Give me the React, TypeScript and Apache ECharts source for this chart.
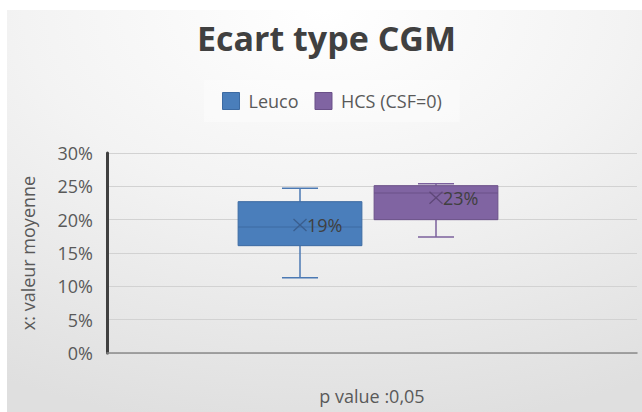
import React, { useEffect, useRef } from 'react';
import * as echarts from 'echarts';

const chartTitle = 'Ecart type CGM';
const seriesNames = ['Leuco', 'HCS (CSF=0)'];
// [min, Q1, median, Q3, max] in %
const leucoBox = [11.3, 16.1, 18.9, 22.7, 24.7];
const hcsBox = [17.4, 20.0, 24.0, 25.1, 25.4];
// means in %
const means = [19.2, 23.3];
const yMin = 0;
const yMax = 30;
const yStep = 5;
const yAxisTitle = 'x: valeur moyenne';
const xAxisTitle = 'p value :0,05';

const palette = [
  { fill: '#4a7ebb', border: '#3c6aa2', whisker: '#4b79b3', marker: '#3a5e8e' },
  { fill: '#8064a2', border: '#6a5088', whisker: '#7b609c', marker: '#5e4878' },
];

const FONT = '"Open Sans", "Noto Sans", sans-serif';

export default function App() {
  const ref = useRef<HTMLDivElement>(null);
  useEffect(() => {
    document.body.style.margin = '0';
    if (!ref.current) return;
    const chart = echarts.init(ref.current, undefined, { renderer: 'svg' });
    const boxes = [leucoBox, hcsBox];

    const renderItem = (params: any, api: any) => {
      const ci = api.value(0);
      const si = params.seriesIndex;
      const col = palette[si];
      const pMin = api.coord([ci, api.value(1)]);
      const pQ1 = api.coord([ci, api.value(2)]);
      const pMed = api.coord([ci, api.value(3)]);
      const pQ3 = api.coord([ci, api.value(4)]);
      const pMax = api.coord([ci, api.value(5)]);
      const pMean = api.coord([ci, api.value(6)]);
      const band = api.size([1, 0])[0];
      const bw = band * 0.91;
      const cw = band * 0.265;
      const cx = pMed[0];
      const mx = 6.5;
      const my = 6;
      return {
        type: 'group',
        children: [
          { type: 'line', shape: { x1: cx, y1: pMax[1], x2: cx, y2: pQ3[1] }, style: { stroke: col.whisker, lineWidth: 1.5 } },
          { type: 'line', shape: { x1: cx, y1: pQ1[1], x2: cx, y2: pMin[1] }, style: { stroke: col.whisker, lineWidth: 1.5 } },
          { type: 'line', shape: { x1: cx - cw / 2, y1: pMax[1], x2: cx + cw / 2, y2: pMax[1] }, style: { stroke: col.whisker, lineWidth: 1.5 } },
          { type: 'line', shape: { x1: cx - cw / 2, y1: pMin[1], x2: cx + cw / 2, y2: pMin[1] }, style: { stroke: col.whisker, lineWidth: 1.5 } },
          {
            type: 'rect',
            shape: { x: cx - bw / 2, y: pQ3[1], width: bw, height: pQ1[1] - pQ3[1] },
            style: { fill: col.fill, stroke: col.border, lineWidth: 1 },
          },
          { type: 'line', shape: { x1: cx - bw / 2, y1: pMed[1], x2: cx + bw / 2, y2: pMed[1] }, style: { stroke: col.border, lineWidth: 1 } },
          { type: 'line', shape: { x1: pMean[0] - mx, y1: pMean[1] - my, x2: pMean[0] + mx, y2: pMean[1] + my }, style: { stroke: col.marker, lineWidth: 1.3 } },
          { type: 'line', shape: { x1: pMean[0] - mx, y1: pMean[1] + my, x2: pMean[0] + mx, y2: pMean[1] - my }, style: { stroke: col.marker, lineWidth: 1.3 } },
          {
            type: 'text',
            x: pMean[0] + mx + 0.5,
            y: pMean[1],
            style: {
              text: Math.round(api.value(6)) + '%',
              fill: '#404040',
              font: '18px ' + FONT,
              align: 'left',
              verticalAlign: 'middle',
            },
          },
        ],
      };
    };

    const option: any = {
      animation: false,
      graphic: [
        {
          type: 'rect',
          z: -10,
          silent: true,
          shape: { x: 7, y: 10, width: 635, height: 402 },
          style: {
            fill: {
              type: 'radial',
              x: 0.5,
              y: 0,
              r: 1.05,
              colorStops: [
                { offset: 0, color: '#ffffff' },
                { offset: 0.45, color: '#f3f3f3' },
                { offset: 1, color: '#dfdfdf' },
              ],
            },
          },
        },
      ],
      title: {
        text: chartTitle,
        left: 197,
        top: 21,
        padding: 0,
        textStyle: { fontFamily: FONT, fontSize: 34, fontWeight: 'bold', color: '#404040' },
      },
      legend: {
        data: seriesNames.map((n, i) => ({
          name: n,
          itemStyle: { color: palette[i].fill, borderColor: palette[i].border, borderWidth: 1 },
        })),
        icon: 'rect',
        left: 204,
        top: 80,
        padding: [12, 18, 12, 18],
        backgroundColor: 'rgba(255,255,255,0.35)',
        itemWidth: 17,
        itemHeight: 17,
        itemGap: 16,
        textStyle: { fontFamily: FONT, fontSize: 18, color: '#595959', padding: [0, 0, 0, 4] },
      },
      grid: [
        { left: 107, right: 5, top: 153, bottom: 59 },
        { left: 232, width: 272, top: 153, bottom: 59 },
      ],
      xAxis: [
        {
          type: 'category',
          gridIndex: 0,
          data: [''],
          axisLabel: { show: false },
          axisTick: { show: false },
          axisLine: { lineStyle: { color: '#8a8a8a', width: 1.5 } },
          name: xAxisTitle,
          nameLocation: 'middle',
          nameGap: 34,
          nameTextStyle: { fontFamily: FONT, fontSize: 18, color: '#595959' },
        },
        {
          type: 'category',
          gridIndex: 1,
          data: seriesNames,
          show: false,
        },
      ],
      yAxis: [
        {
          type: 'value',
          gridIndex: 0,
          min: yMin,
          max: yMax,
          interval: yStep,
          axisLine: { show: true, lineStyle: { color: '#404040', width: 3 } },
          axisTick: { show: false },
          axisLabel: { formatter: '{value}%', fontFamily: FONT, fontSize: 18, color: '#595959', margin: 14 },
          splitLine: { lineStyle: { color: '#d2d2d2', width: 1 } },
          name: yAxisTitle,
          nameLocation: 'middle',
          nameGap: 70,
          nameTextStyle: { fontFamily: FONT, fontSize: 18, color: '#595959' },
        },
        { type: 'value', gridIndex: 1, min: yMin, max: yMax, show: false },
      ],
      series: seriesNames.map((n, i) => ({
        type: 'custom',
        name: n,
        xAxisIndex: 1,
        yAxisIndex: 1,
        itemStyle: { color: palette[i].fill, borderColor: palette[i].border },
        encode: { x: 0, y: [1, 2, 3, 4, 5, 6] },
        renderItem,
        data: [[i, ...boxes[i], means[i]]],
      })),
    };
    chart.setOption(option);
    return () => chart.dispose();
  }, []);
  return <div ref={ref} style={{ width: 642, height: 412 }} />;
}
